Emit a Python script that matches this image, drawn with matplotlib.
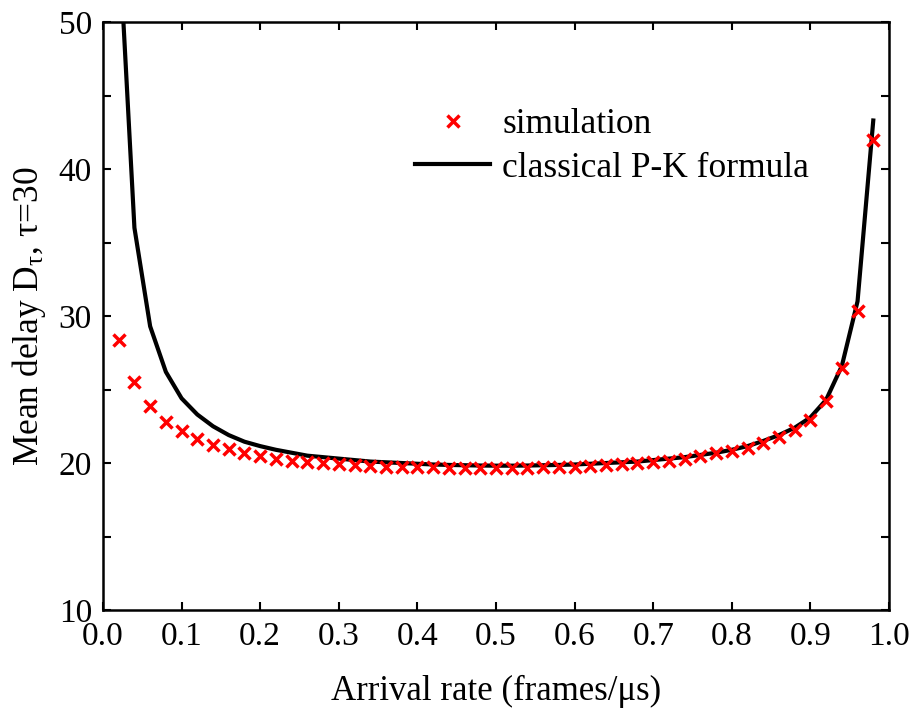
import matplotlib
matplotlib.use("Agg")
import matplotlib.pyplot as plt
from matplotlib.ticker import MultipleLocator, FormatStrFormatter

# arrival rates (frames/us)
rate = [0.02, 0.04, 0.06, 0.08, 0.10, 0.12, 0.14, 0.16, 0.18, 0.20,
        0.22, 0.24, 0.26, 0.28, 0.30, 0.32, 0.34, 0.36, 0.38, 0.40,
        0.42, 0.44, 0.46, 0.48, 0.50, 0.52, 0.54, 0.56, 0.58, 0.60,
        0.62, 0.64, 0.66, 0.68, 0.70, 0.72, 0.74, 0.76, 0.78, 0.80,
        0.82, 0.84, 0.86, 0.88, 0.90, 0.92, 0.94, 0.96, 0.98]

# simulated mean delay
sim_delay = [28.4, 25.5, 23.9, 22.8, 22.15, 21.65, 21.25, 20.95, 20.7, 20.5,
             20.3, 20.15, 20.05, 19.98, 19.92, 19.85, 19.8, 19.76, 19.72, 19.7,
             19.7, 19.68, 19.68, 19.66, 19.67, 19.67, 19.68, 19.7, 19.72, 19.75,
             19.8, 19.85, 19.9, 19.97, 20.05, 20.15, 20.3, 20.45, 20.65, 20.85,
             21.05, 21.35, 21.8, 22.25, 22.95, 24.2, 26.45, 30.35, 42.0]

# classical Pollaczek-Khinchine prediction
pk_delay = [56.0, 36.0, 29.3, 26.2, 24.4, 23.3, 22.5, 21.9, 21.45, 21.15,
            20.9, 20.7, 20.5, 20.4, 20.3, 20.2, 20.1, 20.05, 20.0, 19.95,
            19.9, 19.87, 19.85, 19.83, 19.82, 19.82, 19.83, 19.85, 19.87, 19.9,
            19.95, 20.0, 20.05, 20.1, 20.2, 20.3, 20.4, 20.55, 20.7, 20.9,
            21.15, 21.5, 21.9, 22.4, 23.1, 24.3, 26.6, 31.0, 43.3]

xticks = [0.0, 0.1, 0.2, 0.3, 0.4, 0.5, 0.6, 0.7, 0.8, 0.9, 1.0]
yticks = [10, 20, 30, 40, 50]

plt.rcParams['font.family'] = ['Liberation Serif', 'DejaVu Serif']
plt.rcParams['mathtext.fontset'] = 'custom'
plt.rcParams['mathtext.rm'] = 'Liberation Serif'
plt.rcParams['mathtext.it'] = 'Liberation Serif'
plt.rcParams['font.size'] = 24

fig = plt.figure(figsize=(9.13, 7.10), dpi=100)
ax = fig.add_axes([0.1128, 0.1408, 0.8609, 0.8282])

sim, = ax.plot(rate, sim_delay, linestyle='none', marker='x', color='red',
               markersize=9, markeredgewidth=2.5, label='simulation', zorder=3)
pk, = ax.plot(rate, pk_delay, color='black', linewidth=3,
              label='classical P-K formula', zorder=2)

ax.set_xlim(0, 1.0)
ax.set_ylim(10, 50)
ax.set_xticks(xticks)
ax.set_yticks(yticks)
ax.xaxis.set_major_formatter(FormatStrFormatter('%.1f'))
ax.yaxis.set_minor_locator(MultipleLocator(5))

ax.tick_params(which='both', direction='in', top=True, right=True,
               width=1.5, labelsize=24)
ax.tick_params(which='major', length=6, pad=8)
ax.tick_params(which='minor', length=6)
for s in ax.spines.values():
    s.set_linewidth(1.8)

ax.set_xlabel('Arrival rate (frames/\u03bcs)', fontsize=25)
ax.set_ylabel(r'Mean delay D$_\tau$, $\tau$=30', fontsize=25.5)
ax.xaxis.set_label_coords(0.5, -0.11)
ax.yaxis.set_label_coords(-0.07, 0.5)

ax.legend(handles=[sim, pk], loc='upper left', bbox_to_anchor=(0.357, 0.908),
          frameon=False, fontsize=25.5, handlelength=2.1, handletextpad=0.35,
          labelspacing=0.3, numpoints=1)

fig.savefig('out.png', dpi=100)
